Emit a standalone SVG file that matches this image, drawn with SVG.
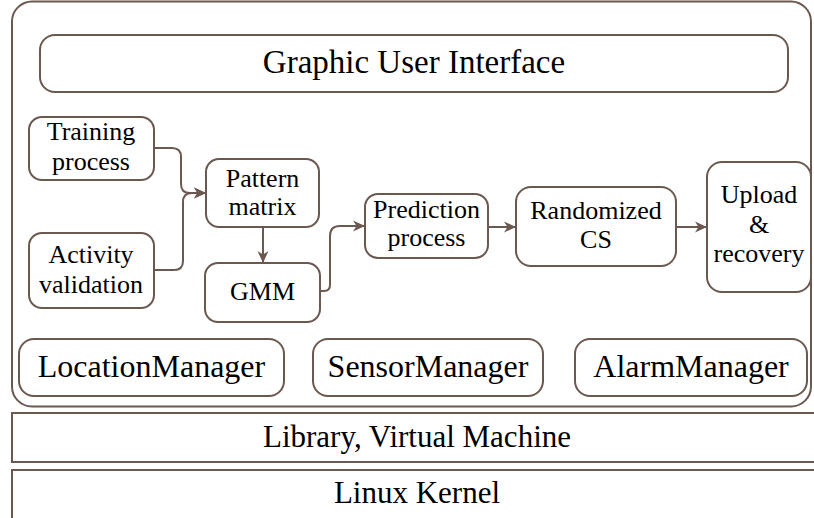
<svg xmlns="http://www.w3.org/2000/svg" width="814" height="518" viewBox="0 0 814 518">
<defs>
<marker id="arr" markerUnits="userSpaceOnUse" markerWidth="14" markerHeight="14" refX="12" refY="6" orient="auto">
<path d="M0,0.5 L12,6 L0,11.5 L3.5,6 z" fill="#6b5850"/>
</marker>
</defs>
<style>
.box{fill:#fff;stroke:#6b5850;stroke-width:2}
.ln{fill:none;stroke:#6b5850;stroke-width:2;marker-end:url(#arr)}
.n{font-size:26px}
.m{font-size:32px}
.l{font-size:31px}
</style>
<rect class="box" x="12" y="1.5" width="799" height="405" rx="20"/>
<g font-family="Liberation Serif, DejaVu Serif, serif" text-anchor="middle" fill="#000">
<g id="gui"><rect class="box" x="40" y="35" width="748" height="57" rx="15"/><text x="414" y="73" font-size="33">Graphic User Interface</text></g>
<g id="training"><rect class="box" x="29" y="117" width="125" height="63" rx="13"/><text class="n" x="91" y="140">Training</text><text class="n" x="91" y="170">process</text></g>
<g id="activity"><rect class="box" x="29" y="233" width="125" height="75" rx="13"/><text class="n" x="91" y="263">Activity</text><text class="n" x="91" y="293">validation</text></g>
<g id="pattern"><rect class="box" x="206" y="159" width="113" height="68" rx="13"/><text class="n" x="262.5" y="187">Pattern</text><text class="n" x="262.5" y="215">matrix</text></g>
<g id="gmm"><rect class="box" x="205" y="263" width="115" height="59" rx="13"/><text class="n" x="262.5" y="300">GMM</text></g>
<g id="prediction"><rect class="box" x="365" y="194" width="123" height="64" rx="13"/><text class="n" x="426.5" y="218">Prediction</text><text class="n" x="426.5" y="246">process</text></g>
<g id="randomized"><rect class="box" x="516" y="187" width="160" height="79" rx="15"/><text class="n" x="596" y="219">Randomized</text><text class="n" x="596" y="248">CS</text></g>
<g id="upload"><rect class="box" x="707" y="162" width="104" height="130" rx="15"/><text class="n" x="759" y="203">Upload</text><text class="n" x="759" y="233">&amp;</text><text class="n" x="759" y="262">recovery</text></g>
<g id="location"><rect class="box" x="19" y="339" width="265" height="57" rx="15"/><text class="m" x="151.5" y="377">LocationManager</text></g>
<g id="sensor"><rect class="box" x="313" y="339" width="230" height="57" rx="15"/><text class="m" x="428" y="377">SensorManager</text></g>
<g id="alarm"><rect class="box" x="575" y="339" width="232" height="57" rx="15"/><text class="m" x="691" y="377">AlarmManager</text></g>
<g id="library"><rect class="box" x="12" y="413" width="812" height="49"/><text class="l" x="417" y="447">Library, Virtual Machine</text></g>
<g id="kernel"><rect class="box" x="12" y="470" width="812" height="60"/><text class="l" x="417" y="503">Linux Kernel</text></g>
</g>
<g id="connectors">
<path class="ln" d="M154,148 H172 Q181,148 181,157 V184 Q181,193 190,193 H206"/>
<path class="ln" d="M154,270 H174 Q183,270 183,261 V202 Q183,193 192,193 H206"/>
<path class="ln" d="M263,227 V263"/>
<path class="ln" d="M320,291 H324 Q330,291 330,285 V236 Q330,226 340,226 H365"/>
<path class="ln" d="M488,227 H516"/>
<path class="ln" d="M676,227 H707"/>
</g>
</svg>
